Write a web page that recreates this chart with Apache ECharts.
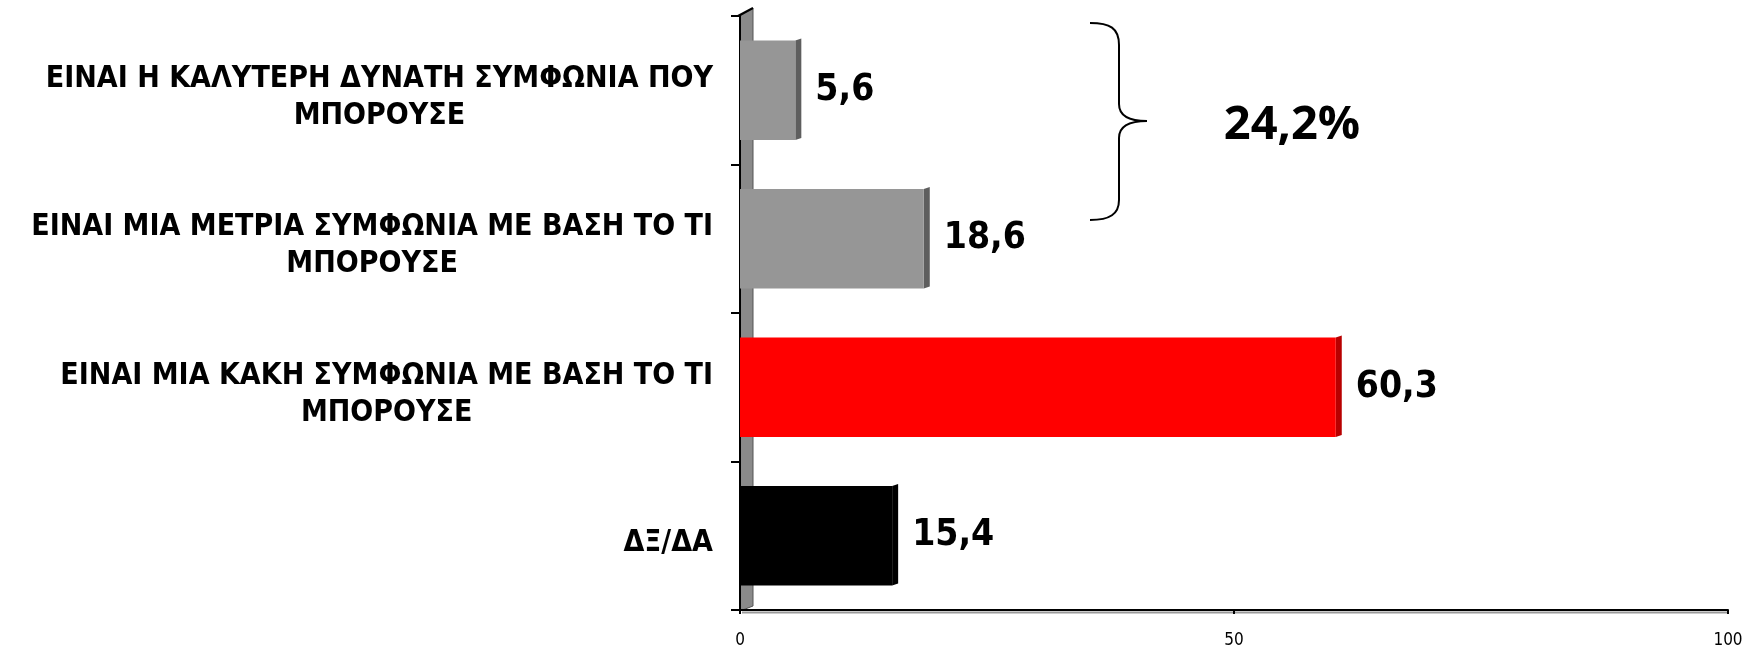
<!DOCTYPE html>
<html>
<head>
<meta charset="utf-8">
<script src="https://cdn.jsdelivr.net/npm/echarts@6/dist/echarts.min.js"></script>
<style>
  html, body { margin: 0; padding: 0; background: #fff; }
  #chart { width: 1748px; height: 649px; }
</style>
</head>
<body>
<div id="chart"></div>
<script>
// data
const categories = [
    'ΕΙΝΑΙ Η ΚΑΛΥΤΕΡΗ ΔΥΝΑΤΗ ΣΥΜΦΩΝΙΑ ΠΟΥ\nΜΠΟΡΟΥΣΕ',
    'ΕΙΝΑΙ ΜΙΑ ΜΕΤΡΙΑ ΣΥΜΦΩΝΙΑ ΜΕ ΒΑΣΗ ΤΟ ΤΙ\nΜΠΟΡΟΥΣΕ',
    'ΕΙΝΑΙ ΜΙΑ ΚΑΚΗ ΣΥΜΦΩΝΙΑ ΜΕ ΒΑΣΗ ΤΟ ΤΙ\nΜΠΟΡΟΥΣΕ',
    'ΔΞ/ΔΑ'
];
const values = [5.6, 18.6, 60.3, 15.4];
const xTicks = [0, 50, 100];

// colours
const barColors = ['#969696', '#969696', '#ff0000', '#000000'];
const sideColors = ['#5e5e5e', '#5e5e5e', '#b80000', '#000000'];

const labelFont = 'DejaVu Sans Condensed';

function fmt(v) {
    return String(v).replace('.', ',');
}

let chart = echarts.init(document.getElementById('chart'));

//brace sum of the first two
let sumText = (values[0] + values[1]).toFixed(1).replace('.', ',') + '%';

const braceStyle = { fill: null, stroke: '#000', lineWidth: 2 };

let option = {
    backgroundColor: '#fff',
    animation: false,
    grid: { left: 740, right: 20, top: 16, bottom: 39, containLabel: false },
    xAxis: {
        type: 'value',
        min: xTicks[0],
        max: xTicks[xTicks.length - 1],
        interval: xTicks[1] - xTicks[0],
        axisLine: { show: true, lineStyle: { color: '#000', width: 2 } },
        axisTick: { show: true, length: 4, lineStyle: { color: '#000', width: 2 } },
        splitLine: { show: false },
        axisLabel: { margin: 22, color: '#000', fontSize: 17, fontFamily: labelFont }
    },
    yAxis: {
        type: 'category',
        data: categories,
        inverse: true,
        axisLine: { show: true, lineStyle: { color: '#000', width: 2 } },
        axisTick: { show: true, length: 9, lineStyle: { color: '#000', width: 2 } },
        axisLabel: {
            margin: 27,
            padding: [14, 0, 0, 0],
            formatter: function (val) {
                return val.split('\n').map(s => '{c|' + s + '}').join('\n');
            },
            rich: {
                c: {
                    align: 'center',
                    fontSize: 30,
                    lineHeight: 37,
                    fontWeight: 'bold',
                    fontFamily: labelFont,
                    color: '#000'
                }
            }
        }
    },
    graphic: [
        //wall
        {
            type: 'polygon',
            z: 0,
            shape: { points: [[740, 16], [753, 8], [753, 606], [740, 611]] },
            style: { fill: '#8a8a8a', stroke: '#555', lineWidth: 1 }
        },
        {
            type: 'line',
            z: 0,
            shape: { x1: 738, y1: 16, x2: 753, y2: 8 },
            style: { stroke: '#000', lineWidth: 2 }
        },
        //floor
        {
            type: 'line',
            z: 0,
            shape: { x1: 742, y1: 612.5, x2: 1728, y2: 612.5 },
            style: { stroke: '#9a9a9a', lineWidth: 2 }
        },
        //brace
        { type: 'bezierCurve', z: 10, shape: { x1: 1090, y1: 23, cpx1: 1110, cpy1: 23, cpx2: 1119, cpy2: 28, x2: 1119, y2: 45 }, style: braceStyle },
        { type: 'line', z: 10, shape: { x1: 1119, y1: 45, x2: 1119, y2: 104 }, style: braceStyle },
        { type: 'bezierCurve', z: 10, shape: { x1: 1119, y1: 104, cpx1: 1119, cpy1: 116, cpx2: 1130, cpy2: 121, x2: 1147, y2: 121 }, style: braceStyle },
        { type: 'bezierCurve', z: 10, shape: { x1: 1147, y1: 121, cpx1: 1130, cpy1: 121, cpx2: 1119, cpy2: 126, x2: 1119, y2: 138 }, style: braceStyle },
        { type: 'line', z: 10, shape: { x1: 1119, y1: 138, x2: 1119, y2: 200 }, style: braceStyle },
        { type: 'bezierCurve', z: 10, shape: { x1: 1119, y1: 200, cpx1: 1119, cpy1: 214, cpx2: 1110, cpy2: 220, x2: 1090, y2: 220 }, style: braceStyle },
        {
            type: 'text',
            z: 10,
            x: 1292,
            y: 126,
            style: {
                text: sumText,
                fontSize: 47,
                fontWeight: 'bold',
                fontFamily: 'Open Sans',
                fill: '#000',
                align: 'center',
                verticalAlign: 'middle'
            }
        }
    ],
    series: [
        {
            type: 'bar',
            barCategoryGap: '33%',
            z: 3,
            data: values.map((v, i) => ({ value: v, itemStyle: { color: barColors[i] } })),
            label: {
                show: true,
                position: 'right',
                distance: 20,
                color: '#000',
                fontSize: 37,
                fontWeight: 'bold',
                fontFamily: labelFont,
                formatter: p => fmt(p.value)
            }
        },
        {
            //3d side face
            type: 'custom',
            z: 3,
            data: values.map((v, i) => [v, i]),
            encode: { x: 0, y: 1 },
            renderItem: function (params, api) {
                let pt = api.coord([api.value(0), api.value(1)]);
                let h = api.size([0, 1])[1] * 0.67;
                let x = pt[0], top = pt[1] - h / 2, bot = pt[1] + h / 2;
                return {
                    type: 'polygon',
                    shape: { points: [[x, top], [x + 6, top - 2], [x + 6, bot - 2], [x, bot]] },
                    style: { fill: sideColors[params.dataIndex] }
                };
            }
        }
    ]
};
chart.setOption(option);
</script>
</body>
</html>
